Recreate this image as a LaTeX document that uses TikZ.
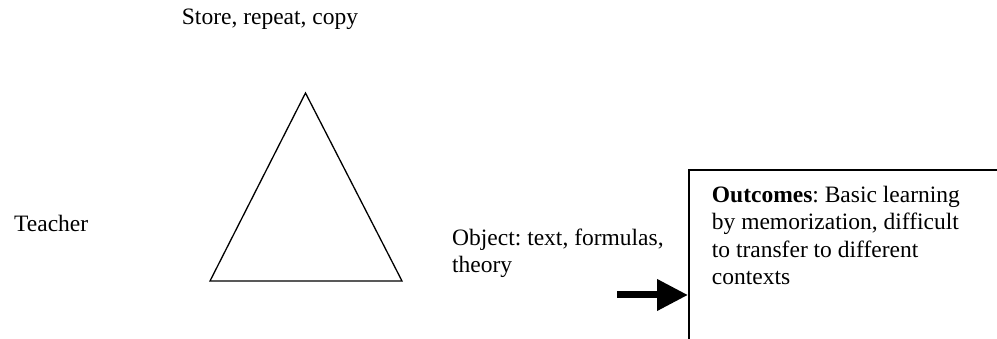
\documentclass[tikz,border=0pt]{standalone}
\usepackage{fontspec}
\setmainfont{Liberation Serif}
\frenchspacing
\usetikzlibrary{arrows.meta,positioning}
\tikzset{
  txt/.style={inner sep=0pt, align=left, anchor=base west,
    font=\fontsize{23.5}{27.5}\selectfont},
  outbox/.style={rectangle, draw=black, line width=2pt, anchor=north west,
    minimum width=340pt, minimum height=200pt},
  tri/.style={draw=black, line width=1.3pt, line join=miter},
  ar/.style={-{Triangle[length=31pt,width=30pt]}, line width=7pt},
}

\begin{document}
\begin{tikzpicture}[x=1pt, y=1pt]
\useasboundingbox (0,0) rectangle (997,339);
\clip (0,0) rectangle (997,339);

% ===================== TRIANGLE AND ITS CORNERS =====================
\coordinate (top)   at (305.5,246);
\coordinate (left)  at (210,58);
\coordinate (right) at (402,58);
\draw[tri] (top) -- (left) -- (right) -- cycle;

% base west of a two-line text sits on its last line
\node[txt] (store)   at (181.7,314) {Store, repeat, copy};
\node[txt] (teacher) at (14,107)    {Teacher};
\node[txt] (object)  at (452,66)    {Object: text, formulas,\\theory};

% ===================== OUTCOMES BOX =====================
\node[outbox] (outc) at (688,170) {};
\node[txt] (outtxt) at (711.7,54)
  {\textbf{Outcomes}: Basic learning\\by memorization, difficult\\to transfer to different\\contexts};

\coordinate (tail) at (617,44);
\draw[ar] (tail) -- (tail -| outc.west);

\end{tikzpicture}
\end{document}
